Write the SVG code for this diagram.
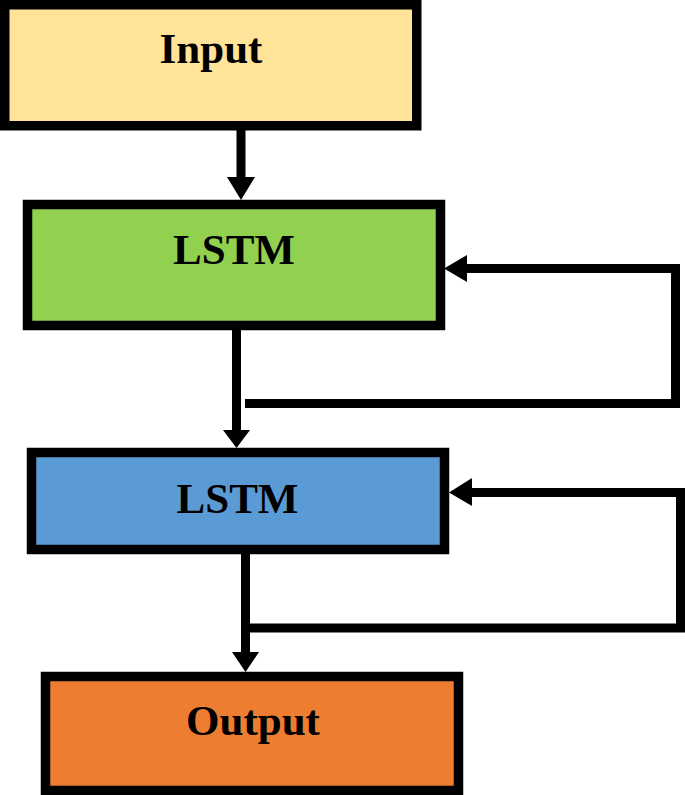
<svg xmlns="http://www.w3.org/2000/svg" width="685" height="795" viewBox="0 0 685 795">
<style>
.box{stroke:#000;stroke-width:9.5}
.lbl{font-family:"Liberation Serif","Times New Roman",serif;font-weight:bold;font-size:43px;fill:#000;text-anchor:middle}
.wire{fill:none;stroke:#000;stroke-width:9;stroke-linejoin:miter;stroke-linecap:butt}
.head{fill:#000}
</style>
<rect width="685" height="795" fill="#fff"/>
<g id="node-input">
<rect class="box" x="4.75" y="4.75" width="412" height="121" fill="#FFE399"/>
<text class="lbl" x="211" y="63">Input</text>
</g>
<g id="node-lstm1">
<rect class="box" x="27.5" y="204.5" width="413" height="121" fill="#92D050"/>
<text class="lbl" x="234" y="264">LSTM</text>
</g>
<g id="node-lstm2">
<rect class="box" x="31.5" y="452.5" width="413" height="97" fill="#5B9BD5"/>
<text class="lbl" x="237.5" y="513">LSTM</text>
</g>
<g id="node-output">
<rect class="box" x="45.5" y="676.5" width="413" height="114" fill="#ED7D31"/>
<text class="lbl" x="253" y="735">Output</text>
</g>
<g id="connectors">
<line class="wire" x1="241" y1="130" x2="241" y2="180"/>
<polygon class="head" points="227,177 255,177 241,200"/>
<line class="wire" x1="236.5" y1="330" x2="236.5" y2="433"/>
<polygon class="head" points="223,430 250,430 236.5,448"/>
<polyline class="wire" points="245,403.5 675.5,403.5 675.5,268.5 465,268.5"/>
<polygon class="head" points="467,255 467,282 444,268.5"/>
<line class="wire" x1="245.5" y1="554" x2="245.5" y2="655"/>
<polygon class="head" points="232,652 259,652 245.5,672"/>
<polyline class="wire" points="250,628 680.5,628 680.5,492.5 470,492.5"/>
<polygon class="head" points="472,478 472,506 449,492.5"/>
</g>
</svg>
